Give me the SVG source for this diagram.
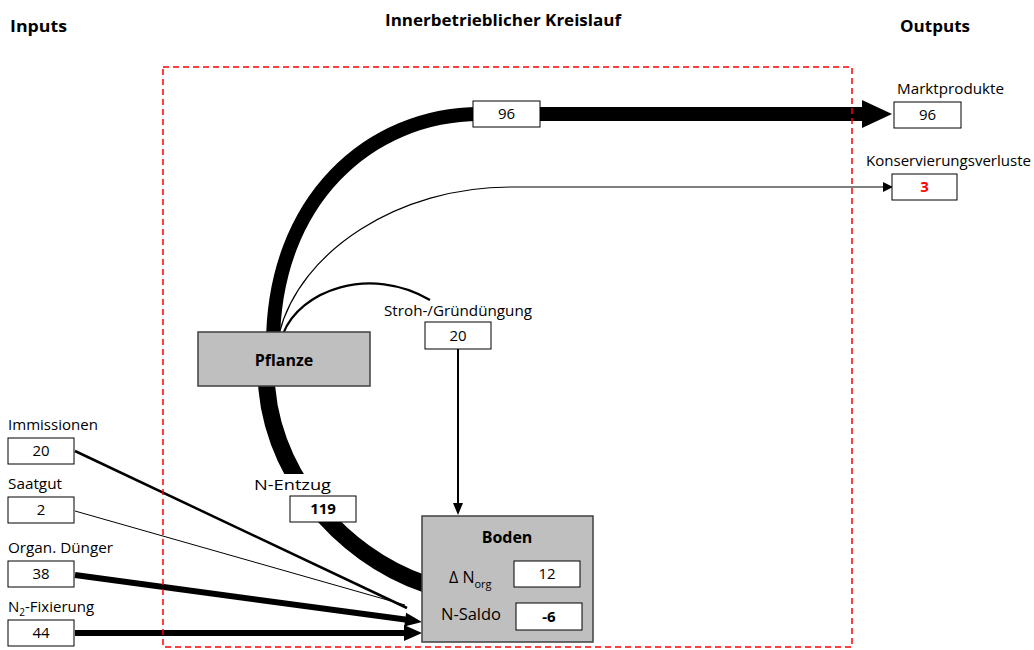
<svg xmlns="http://www.w3.org/2000/svg" width="1034" height="650" viewBox="0 0 1034 650">
<style>
text{font-family:"Open Sans","Liberation Sans",sans-serif;fill:#000}
.lbl{font-size:15px}
.num{font-size:15px;text-anchor:middle}
.b{font-weight:bold}
.hd{font-size:16px;font-weight:bold}
.box{fill:#fff;stroke:#000;stroke-width:1}
.gbox{fill:#bfbfbf;stroke:#404040;stroke-width:1.5}
.ln{fill:none;stroke:#000}
</style>
<rect width="1034" height="650" fill="#fff"/>
<text class="hd" x="10" y="32" textLength="57" lengthAdjust="spacingAndGlyphs">Inputs</text>
<text class="hd" x="385" y="26" textLength="236" lengthAdjust="spacingAndGlyphs">Innerbetrieblicher Kreislauf</text>
<text class="hd" x="900" y="32" textLength="70" lengthAdjust="spacingAndGlyphs">Outputs</text>
<g id="connectors">
<path class="ln" d="M 266 370 C 266 470 340 555 425 584" stroke-width="17"/>
<path class="ln" d="M 273 345 C 273 200 370 114 480 114" stroke-width="14"/>
<path class="ln" d="M 540 114 L 864 114" stroke-width="14"/>
<polygon points="862,100 892,114 862,128"/>
<path class="ln" d="M 279 334 C 300 250 400 187 510 187 L 885 187" stroke-width="1.2"/>
<polygon points="883,182 893,187 883,192"/>
<path class="ln" d="M 283 334 C 300 290 370 265 430 300" stroke-width="2.2"/>
<path class="ln" d="M 458 349 L 458 505" stroke-width="2"/>
<polygon points="453,503 458,515 463,503"/>
<path class="ln" d="M 75 451 L 407 608" stroke-width="2.5"/>
<path class="ln" d="M 75 511 L 405 605" stroke-width="1"/>
<path class="ln" d="M 75 575 L 407 619.8" stroke-width="6"/>
<polygon points="406.1,612.8 422,622 404.3,626.6"/>
<path class="ln" d="M 75 633 L 406 633" stroke-width="6"/>
<polygon points="404,625 422,633 404,641"/>
</g>
<rect id="kreislauf" x="163" y="67" width="689" height="580" fill="none" stroke="#ff0000" stroke-width="1.5" stroke-dasharray="6,4"/>
<g id="pflanze">
<rect class="gbox" x="198" y="332" width="172" height="54"/>
<text class="hd" x="284" y="366" text-anchor="middle">Pflanze</text>
</g>
<g id="boden">
<rect class="gbox" x="422" y="516" width="171" height="126"/>
<text class="hd" x="507" y="543" text-anchor="middle">Boden</text>
<text x="449" y="583" style="font-size:16px">Δ N<tspan style="font-size:11px" dy="5">org</tspan></text>
<rect class="box" x="514" y="561" width="66" height="26"/>
<text class="num" x="547" y="579">12</text>
<text x="441" y="620" style="font-size:16px" textLength="60" lengthAdjust="spacingAndGlyphs">N-Saldo</text>
<rect class="box" x="516" y="603" width="66" height="27"/>
<text class="num b" x="549" y="622">-6</text>
</g>
<g id="markt96">
<rect class="box" x="473" y="101" width="67" height="26"/>
<text class="num" x="506.5" y="119">96</text>
</g>
<g id="marktprodukte">
<text class="lbl" x="897" y="94" textLength="107" lengthAdjust="spacingAndGlyphs">Marktprodukte</text>
<rect class="box" x="894" y="102" width="67" height="26"/>
<text class="num" x="927.5" y="120">96</text>
</g>
<g id="konservierungsverluste">
<text class="lbl" x="866" y="166" textLength="165" lengthAdjust="spacingAndGlyphs">Konservierungsverluste</text>
<rect class="box" x="892" y="174" width="65" height="26"/>
<text class="num b" x="924.5" y="192" style="fill:#ff0000">3</text>
</g>
<g id="stroh">
<text class="lbl" x="384" y="316" textLength="148" lengthAdjust="spacingAndGlyphs">Stroh-/Gründüngung</text>
<rect class="box" x="425" y="322" width="66" height="27"/>
<text class="num" x="458" y="341">20</text>
</g>
<g id="nentzug">
<rect x="252" y="474" width="82" height="22" fill="#fff"/>
<text class="lbl" x="254" y="490" textLength="77" lengthAdjust="spacingAndGlyphs">N-Entzug</text>
<rect class="box" x="290" y="496" width="66" height="26"/>
<text class="num b" x="323" y="514">119</text>
</g>
<g id="immissionen">
<text class="lbl" x="8" y="430" textLength="90" lengthAdjust="spacingAndGlyphs">Immissionen</text>
<rect class="box" x="8" y="438" width="66" height="26"/>
<text class="num" x="41" y="456">20</text>
</g>
<g id="saatgut">
<text class="lbl" x="8" y="489" textLength="54" lengthAdjust="spacingAndGlyphs">Saatgut</text>
<rect class="box" x="8" y="497" width="66" height="26"/>
<text class="num" x="41" y="515">2</text>
</g>
<g id="organ">
<text class="lbl" x="8" y="553" textLength="105" lengthAdjust="spacingAndGlyphs">Organ. Dünger</text>
<rect class="box" x="8" y="561" width="66" height="26"/>
<text class="num" x="41" y="579">38</text>
</g>
<g id="fixierung">
<text class="lbl" x="8" y="612">N<tspan style="font-size:10px" dy="4">2</tspan><tspan dy="-4">-Fixierung</tspan></text>
<rect class="box" x="8" y="620" width="66" height="26"/>
<text class="num" x="41" y="638">44</text>
</g>
</svg>
